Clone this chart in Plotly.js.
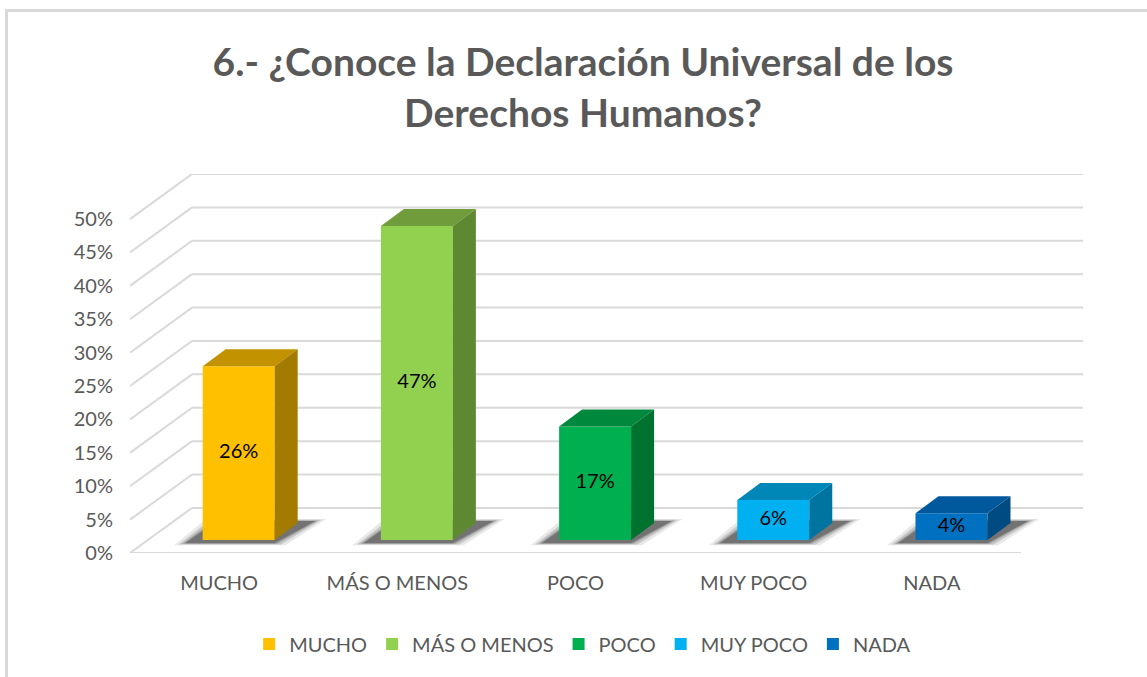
<!DOCTYPE html>
<html>
<head>
<meta charset="utf-8">
<script src="https://cdn.plot.ly/plotly-3.0.1.min.js"></script>
<style>
  html, body { margin: 0; padding: 0; background: #ffffff; }
  #frame { position: absolute; left: 5px; top: 9px; width: 1160px; height: 700px;
           border-left: 3px solid #d9d9d9; border-top: 3px solid #d9d9d9; box-sizing: border-box; }
  #chart { position: absolute; left: 0; top: 0; width: 1147px; height: 677px; }
</style>
</head>
<body>
<div id="frame"></div>
<div id="chart"></div>
<script>
// ---- data ----
const categories = ['MUCHO', 'MÁS O MENOS', 'POCO', 'MUY POCO', 'NADA'];
const values = [26, 47, 17, 6, 4];
const yTickValues = [0, 5, 10, 15, 20, 25, 30, 35, 40, 45, 50];
const yTickLabels = ['0%', '5%', '10%', '15%', '20%', '25%', '30%', '35%', '40%', '45%', '50%'];

// ---- styles ----
const frontColors = ['#FFC000', '#92D050', '#00B050', '#00B0F0', '#0070C0'];
const topColors   = ['#C29200', '#709C3C', '#00893D', '#0087B7', '#00599C'];
const sideColors  = ['#A27B00', '#5F8832', '#007230', '#0074A0', '#004B82'];

// ---- 3D projection parameters (axis units) ----
const WALL_DX = 0.348, WALL_DY = 6.75;      // depth of the floor / side wall
const BAR_FX = 0.11, BAR_BASE = 1.95;        // where the bar's front face sits
const BAR_W = 0.404, BAR_DX = 0.129, BAR_DY = 2.55; // bar width and depth
const X_MIN = -0.5, X_MAX_FRONT = 4.5;

const shapes = [];
const gridColor = '#d9d9d9';
// gridlines: side wall diagonals + back wall horizontals
yTickValues.forEach(t => {
  shapes.push({type: 'line', xref: 'x', yref: 'y', layer: 'below',
    x0: X_MIN, y0: t, x1: X_MIN + WALL_DX, y1: t + WALL_DY,
    line: {color: gridColor, width: 2}});
  shapes.push({type: 'line', xref: 'x', yref: 'y', layer: 'below',
    x0: X_MIN + WALL_DX, y0: t + WALL_DY, x1: X_MAX_FRONT + WALL_DX, y1: t + WALL_DY,
    line: {color: gridColor, width: 2}});
});
// floor front edge
shapes.push({type: 'line', xref: 'x', yref: 'y', layer: 'below',
  x0: X_MIN, y0: 0, x1: X_MAX_FRONT, y1: 0, line: {color: gridColor, width: 2}});

// soft shadows on the floor
const shadowLayers = [
  {grow: 0.06, op: 0.10},
  {grow: 0.035, op: 0.16},
  {grow: 0.015, op: 0.22},
  {grow: 0.0, op: 0.35}
];
values.forEach((v, i) => {
  const x0 = i + BAR_FX - BAR_W / 2, x1 = i + BAR_FX + BAR_W / 2;
  const b = BAR_BASE;
  shadowLayers.forEach(s => {
    const g = s.grow;
    const pts = [
      [x0 - 0.10 - g, b - 0.5 - g * 5],
      [x1 + 0.0 + g, b - 0.5 - g * 5],
      [x1 + BAR_DX + 0.10 + g, b + BAR_DY + 0.3 + g * 5],
      [x0 + BAR_DX - 0.05 - g, b + BAR_DY + 0.3 + g * 5]
    ];
    shapes.push({type: 'path', xref: 'x', yref: 'y', layer: 'below',
      path: 'M' + pts.map(p => p[0] + ',' + p[1]).join(' L') + ' Z',
      fillcolor: 'rgba(30,30,30,' + s.op + ')', line: {width: 0}});
  });
});

const traces = [];
// front faces (legend entries)
categories.forEach((c, i) => {
  traces.push({
    type: 'bar', name: c,
    x: [i + BAR_FX], y: [values[i]], base: [BAR_BASE], width: [BAR_W],
    marker: {color: frontColors[i], line: {width: 0}},
    hoverinfo: 'skip', showlegend: true
  });
});
// top and side faces
categories.forEach((c, i) => {
  const v = values[i];
  const x0 = i + BAR_FX - BAR_W / 2, x1 = i + BAR_FX + BAR_W / 2;
  const b = BAR_BASE, t = BAR_BASE + v;
  traces.push({
    type: 'scatter', mode: 'lines', fill: 'toself', showlegend: false, hoverinfo: 'skip',
    x: [x0, x1, x1 + BAR_DX, x0 + BAR_DX, x0],
    y: [t, t, t + BAR_DY, t + BAR_DY, t],
    fillcolor: topColors[i], line: {width: 0, color: topColors[i]}
  });
  traces.push({
    type: 'scatter', mode: 'lines', fill: 'toself', showlegend: false, hoverinfo: 'skip',
    x: [x1, x1 + BAR_DX, x1 + BAR_DX, x1, x1],
    y: [b, b + BAR_DY, t + BAR_DY, t, b],
    fillcolor: sideColors[i], line: {width: 0, color: sideColors[i]}
  });
});
// data labels
traces.push({
  type: 'scatter', mode: 'text', showlegend: false, hoverinfo: 'skip',
  x: categories.map((c, i) => i + BAR_FX),
  y: values.map(v => BAR_BASE + v / 2),
  text: values.map(v => v + '%'),
  textposition: 'middle center',
  textfont: {family: 'Lato, sans-serif', size: 20, color: '#000000'}
});

const layout = {
  width: 1147, height: 677,
  margin: {l: 130, r: 64, t: 174, b: 124, pad: 0},
  paper_bgcolor: 'rgba(0,0,0,0)', plot_bgcolor: 'rgba(0,0,0,0)',
  barmode: 'overlay',
  font: {family: 'Lato, sans-serif', color: '#595959', size: 20},
  title: {
    text: '6.- ¿Conoce la Declaración Universal de los<br>Derechos Humanos?',
    font: {family: 'Lato, sans-serif', size: 39, color: '#595959', weight: 'bold'},
    x: 583 / 1147, xanchor: 'center', xref: 'container',
    y: 1 - 76 / 677, yanchor: 'top', yref: 'container'
  },
  xaxis: {
    range: [X_MIN, X_MAX_FRONT + WALL_DX], fixedrange: true,
    tickvals: categories.map((c, i) => i), ticktext: categories,
    showgrid: false, zeroline: false, showline: false, ticks: '',
    ticklabelstandoff: 16,
    tickfont: {family: 'Lato, sans-serif', size: 20, color: '#595959'}
  },
  yaxis: {
    range: [0, 50 + WALL_DY], fixedrange: true,
    tickvals: yTickValues, ticktext: yTickLabels,
    showgrid: false, zeroline: false, showline: false, ticks: '',
    ticklabelstandoff: 16,
    tickfont: {family: 'Lato, sans-serif', size: 20, color: '#595959'}
  },
  legend: {
    orientation: 'h', x: 0.475, xanchor: 'center', y: -0.24, yanchor: 'middle',
    font: {family: 'Lato, sans-serif', size: 20, color: '#595959'},
    itemclick: false, itemdoubleclick: false
  },
  shapes: shapes,
  showlegend: true
};

Plotly.newPlot('chart', traces, layout, {displayModeBar: false, staticPlot: true});
</script>
</body>
</html>
